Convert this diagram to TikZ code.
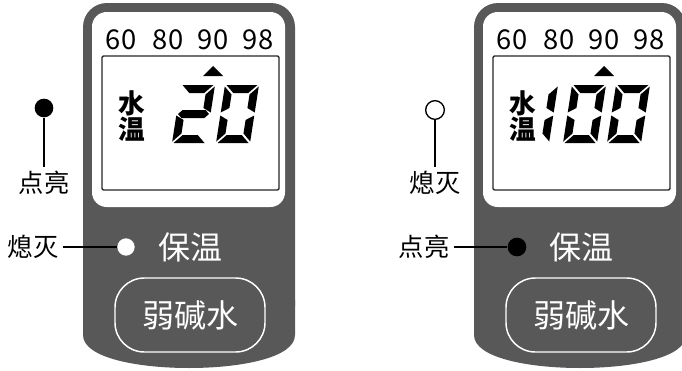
\documentclass[tikz,border=0pt]{standalone}
\usepackage{fontspec}
\setmainfont{Noto Sans CJK SC}

\definecolor{panelgray}{RGB}{88,88,88}

% seven-segment pieces, digit box 34 x 58
\tikzset{
  seg a/.style={insert path={(1.5,0) -- (32.5,0) -- (24.5,8) -- (9.5,8) -- cycle}},
  seg b/.style={insert path={(34,1.5) -- (26,9.5) -- (26,23) -- (34,27.5) -- cycle}},
  seg c/.style={insert path={(34,30.5) -- (26,35) -- (26,48.5) -- (34,56.5) -- cycle}},
  seg d/.style={insert path={(1.5,58) -- (32.5,58) -- (24.5,50) -- (9.5,50) -- cycle}},
  seg e/.style={insert path={(0,30.5) -- (8,35) -- (8,48.5) -- (0,56.5) -- cycle}},
  seg f/.style={insert path={(0,1.5) -- (8,9.5) -- (8,23) -- (0,27.5) -- cycle}},
  seg g/.style={insert path={(1.5,29) -- (5.5,25) -- (28.5,25) -- (32.5,29) -- (28.5,33) -- (5.5,33) -- cycle}}
}
\newcommand{\lcddigit}[2]{%
  \begin{scope}[shift={#1}, xslant=0.155]
    \foreach \s in {#2} \fill[seg \s];
  \end{scope}}

\begin{document}
\begin{tikzpicture}[x=0.75pt, y=-0.75pt,
    scale label/.style={font=\fontsize{20.5}{20.5}\selectfont, inner sep=0pt},
    water label/.style={font=\bfseries\fontsize{20}{20}\selectfont, inner sep=0pt},
    big label/.style={font=\fontsize{24}{24}\selectfont, text=white, inner sep=0pt},
    button/.style={draw=white, line width=1.1pt, rounded corners=22pt,
      minimum width=112.5pt, minimum height=55.5pt, inner sep=0pt,
      font=\fontsize{24}{24}\selectfont, text=white},
    side label/.style={font=\fontsize{19}{19}\selectfont, inner sep=3pt},
    dot on/.style={circle, fill=black, minimum size=14pt, inner sep=0pt},
    dot off/.style={circle, draw=black, fill=white, line width=1pt, minimum size=14pt, inner sep=0pt},
    led off/.style={circle, fill=white, minimum size=13pt, inner sep=0pt},
    wire/.style={draw=black, line width=1pt}]
  \useasboundingbox (0,0) rectangle (682,371);
  \clip (0,0) rectangle (682,371);

  % panel body, screen and button (same on both sides)
  \foreach \dx/\p in {0/L,391/R} {
    \begin{scope}[shift={(\dx,0)}]
      \fill[panelgray, rounded corners=18pt] (83,3) rectangle (295,330);
      \fill[panelgray] (83,300) -- (295,300) -- (295,335)
        .. controls (295,358) and (240,368) .. (189,368)
        .. controls (138,368) and (83,358) .. (83,335) -- cycle;
      \fill[white, rounded corners=11pt] (92,12) rectangle (285,207);
      \draw[black!85, line width=1.1pt, rounded corners=1pt] (102,56) rectangle (279,190);
      \foreach \v/\x in {60/121,80/168,90/213,98/258}
        \node[scale label] (\p\v) at (\x,40) {\v};
      \fill (203,76) -- (223,76) -- (213,66) -- cycle;
      \node[water label] (\p-shui) at (132,103) {水};
      \node[water label] (\p-wen) at (132,129) {温};
      \node[big label] (\p-keep) at (190,247) {保温};
      \node[button] (\p-btn) at (190,315) {弱碱水};
    \end{scope}
  }

  % left: water at 20, legend lit / keep-warm off
  \lcddigit{(181,85)}{a,b,g,e,d}
  \lcddigit{(225,85)}{a,b,c,d,e,f}
  \node[dot on] (L-dot) at (44,108) {};
  \node[side label] (L-dot-txt) at (44,183) {点亮};
  \draw[wire] (L-dot) -- (L-dot-txt);
  \node[led off] (L-led) at (126,247) {};
  \node[side label] (L-led-txt) at (33,247) {熄灭};
  \draw[wire] (L-led-txt) -- (L-led);

  % right: water at 100, legend off / keep-warm lit
  \begin{scope}[shift={(391,0)}]
    \lcddigit{(133,85)}{b,c}
    \lcddigit{(181,85)}{a,b,c,d,e,f}
    \lcddigit{(225,85)}{a,b,c,d,e,f}
    \node[dot off] (R-dot) at (44,110) {};
    \node[side label] (R-dot-txt) at (44,183) {熄灭};
    \draw[wire] (R-dot) -- (R-dot-txt);
    \node[dot on] (R-led) at (126,247) {};
    \node[side label] (R-led-txt) at (33,247) {点亮};
    \draw[wire] (R-led-txt) -- (R-led);
  \end{scope}
\end{tikzpicture}
\end{document}
